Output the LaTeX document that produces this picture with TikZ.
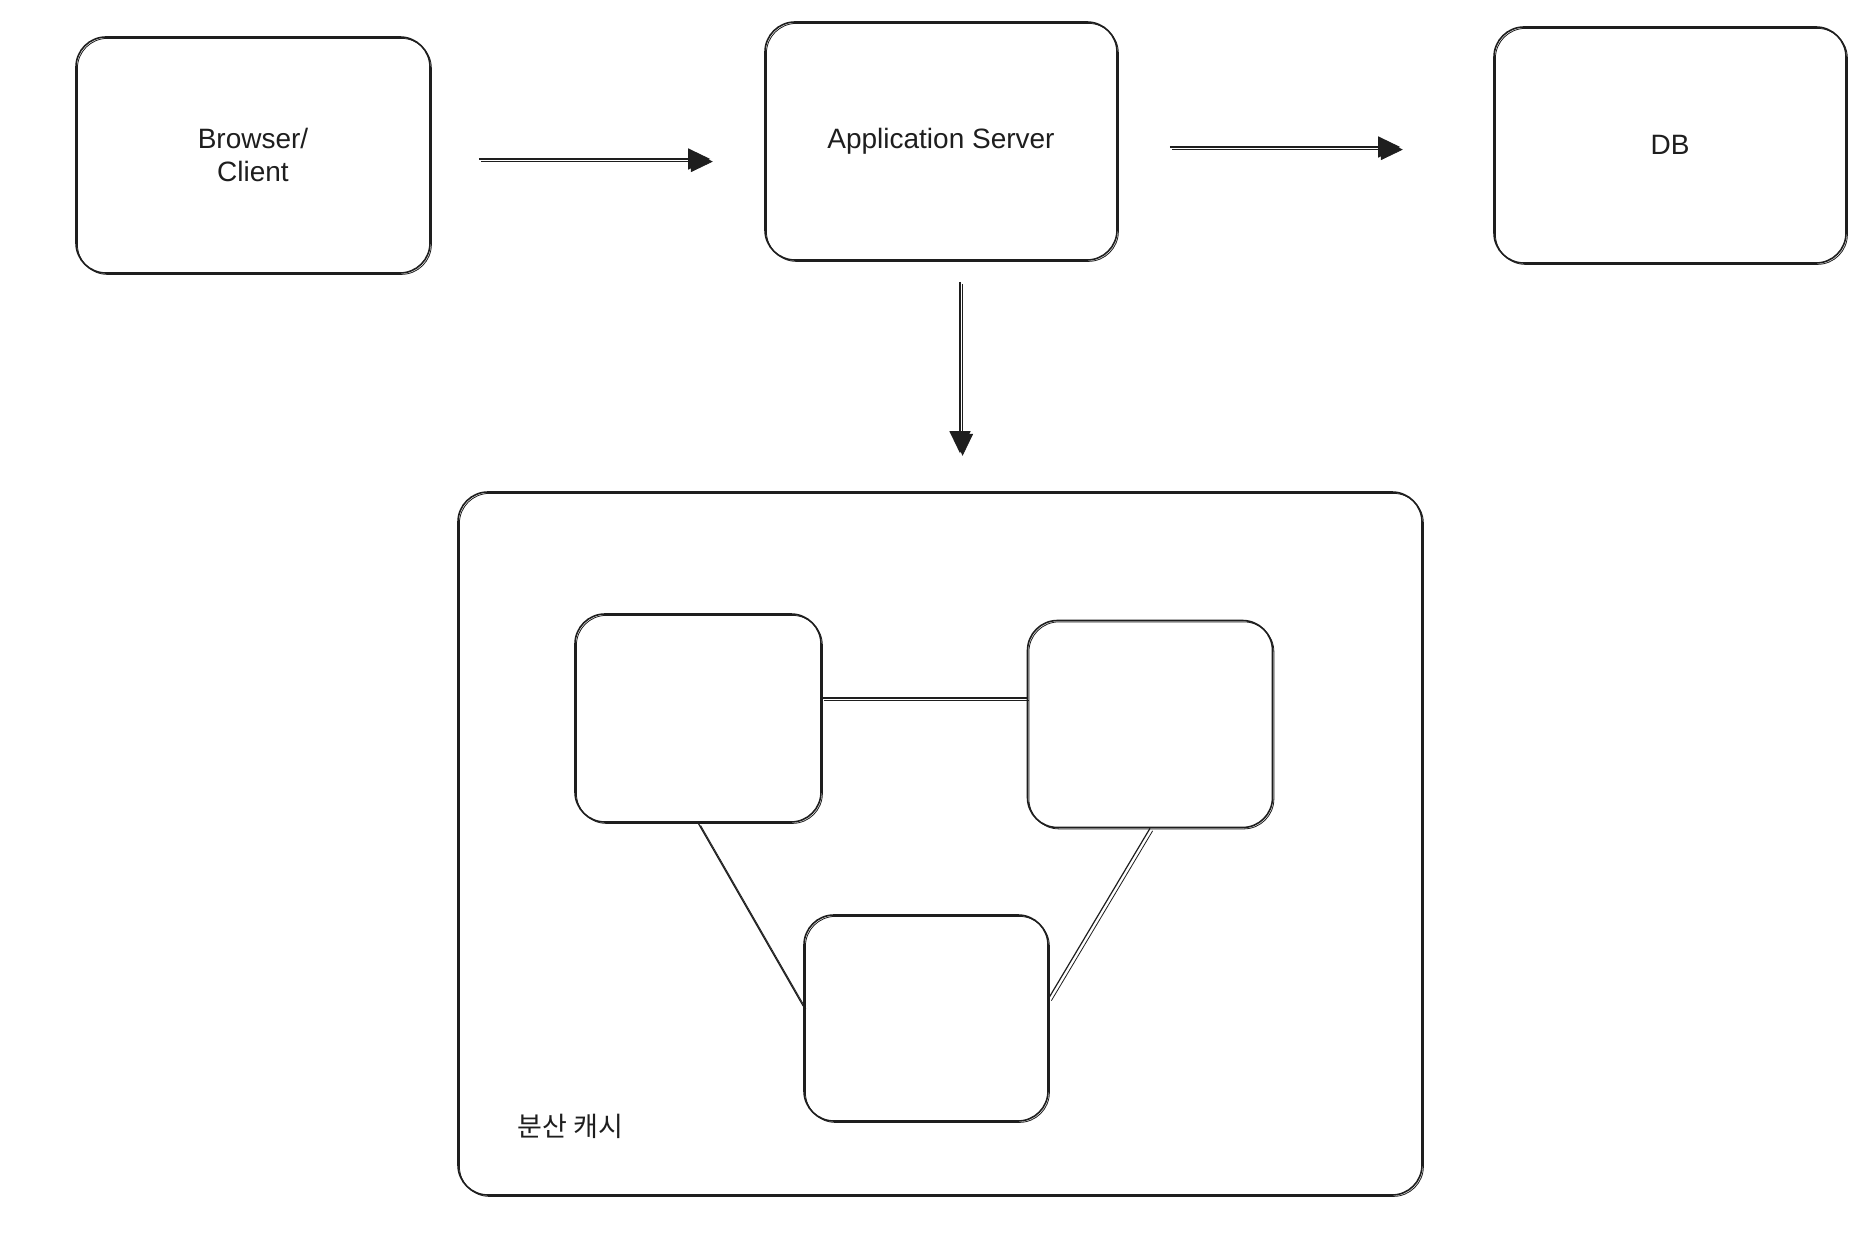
\documentclass[tikz,border=0pt]{standalone}
\usepackage{fontspec}
\setmainfont{Liberation Sans}
\newfontfamily\krfont{Noto Sans CJK KR}
\usetikzlibrary{arrows.meta}
\definecolor{ink}{HTML}{1E1E1E}

\begin{document}
\begin{tikzpicture}[
	x=1pt, y=-1pt,
	box/.style={ draw=ink, text=ink, line width=1.6pt, rounded corners=30pt, inner sep=0pt, align=center, font=\fontsize{28}{33}\selectfont, postaction={draw=ink, line width=0.8pt, transform canvas={shift={(1.4pt,-1.4pt)}}} },
	arr/.style={ draw=ink, line width=1.2pt, -{Triangle[length=22pt,width=21pt]}, postaction={draw=ink, line width=0.8pt, transform canvas={shift={(2.6pt,-2.6pt)}}} },
	link/.style={ draw=ink, line width=1.2pt, postaction={draw=ink, line width=0.8pt, transform canvas={shift={(2.6pt,-2.6pt)}}} }
]

\path[fill=white] (0,0) rectangle (1874,1252);

\node at (253,155) (browser) [box, minimum width=354pt, minimum height=236pt] {Browser/\\Client};
\node at (941,141) (app) [box, minimum width=352pt, minimum height=238pt] {Application Server};
\node at (1670,145) (db) [box, minimum width=352pt, minimum height=236pt] {DB};

\draw[arr, shorten <=48pt, shorten >=54pt] ([yshift=-4pt]browser.east) -- ([yshift=-4pt]browser.east -| app.west);
\draw[arr, shorten <=52pt, shorten >=93pt] ([yshift=-6pt]app.east) -- ([yshift=-6pt]app.east -| db.west);

\node at (940,843.5) (cache) [box, minimum width=964pt, minimum height=703pt] {};
\draw[arr, shorten <=21pt, shorten >=38pt] ([xshift=19pt]app.south) -- ([xshift=19pt]app.south |- cache.north);

\node at (698,718) (nodea) [box, minimum width=246pt, minimum height=208pt] {};
\node at (1150,724) (nodeb) [box, minimum width=245pt, minimum height=207pt] {};
\node at (926,1018) (nodec) [box, minimum width=244pt, minimum height=206pt] {};

\draw[link] ([yshift=20pt]nodea.east) -- ([yshift=20pt]nodea.east -| nodeb.west);
\draw[link] (nodea.south) -- ([yshift=12pt]nodec.west);
\draw[link] ([yshift=20pt]nodec.east) -- (nodeb.south);

\node at (514,1126) (cachelabel) [anchor=west, text=ink, font=\krfont\fontsize{27}{30}\selectfont] {분산 캐시};

\end{tikzpicture}
\end{document}
